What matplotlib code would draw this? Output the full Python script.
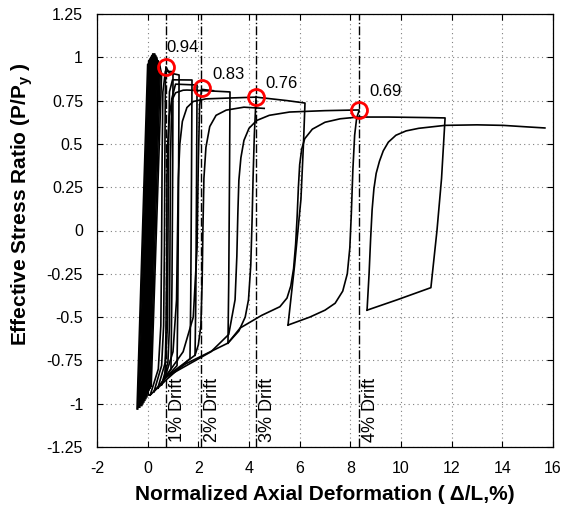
import matplotlib.pyplot as plt

plt.rcParams['font.family'] = ['Liberation Sans', 'DejaVu Sans']
plt.rcParams['mathtext.fontset'] = 'custom'
plt.rcParams['mathtext.rm'] = 'Liberation Sans'
plt.rcParams['mathtext.bf'] = 'Liberation Sans:bold'

# ---- data ----
# dense elastic bundle near zero deformation
bundle_bot_x = [-0.42, -0.39, -0.35, -0.31, -0.27, -0.23, -0.19, -0.15, -0.11, -0.07, -0.03, 0.02]
bundle_bot_y = [-1.03, -1.03, -1.02, -1.02, -1.01, -1.01, -1.00, -0.99, -0.98, -0.97, -0.96, -0.95]
bundle_top_x = [0.00, 0.04, 0.08, 0.12, 0.16, 0.20, 0.24, 0.28, 0.32, 0.36, 0.42, 0.47]
bundle_top_y = [0.96, 0.98, 0.99, 1.00, 1.01, 1.02, 1.02, 1.02, 1.01, 1.00, 0.98, 0.96]
bundle_ret_x = [0.08, 0.12, 0.16, 0.20, 0.24, 0.28, 0.32, 0.36, 0.40, 0.44, 0.50, 0.55]
bundle_ret_y = [0.90, 0.92, 0.93, 0.94, 0.95, 0.95, 0.95, 0.95, 0.94, 0.93, 0.92, 0.90]
bundle_end_x = [-0.30, -0.26, -0.22, -0.18, -0.14, -0.10, -0.06, -0.02, 0.02, 0.06, 0.10, 0.14]
bundle_end_y = [-1.00, -0.99, -0.99, -0.98, -0.97, -0.96, -0.95, -0.94, -0.93, -0.92, -0.91, -0.90]

# cyclic loops (knee, plateau, unloading, compression branch)
loop_a_x = [0.10, 0.42, 0.52, 0.55, 0.57, 0.60, 0.70, 1.00, 0.99, 0.96, 0.92, 0.45, 0.10]
loop_a_y = [-0.95, -0.80, -0.55, -0.10, 0.40, 0.80, 0.92, 0.917, 0.40, -0.30, -0.80, -0.90, -0.95]
loop_b_x = [0.25, 0.55, 0.63, 0.66, 0.68, 0.70, 0.72, 0.85, 1.24, 1.22, 1.19, 1.16, 0.60, 0.25]
loop_b_y = [-0.93, -0.78, -0.55, -0.10, 0.45, 0.85, 0.945, 0.91, 0.898, 0.30, -0.40, -0.78, -0.87, -0.93]
loop_c_x = [0.40, 0.70, 0.78, 0.80, 0.82, 0.86, 0.98, 1.75, 1.73, 1.70, 1.67, 0.75, 0.40]
loop_c_y = [-0.91, -0.76, -0.55, -0.10, 0.40, 0.80, 0.87, 0.869, 0.30, -0.40, -0.74, -0.86, -0.91]
loop_d_x = [0.55, 0.80, 0.86, 0.88, 0.90, 0.95, 1.10, 1.95, 1.93, 1.90, 1.87, 0.68, 0.55]
loop_d_y = [-0.89, -0.76, -0.55, -0.10, 0.40, 0.76, 0.845, 0.84, 0.30, -0.40, -0.72, -0.85, -0.89]
loop_e_x = [0.68, 0.72, 0.75, 0.76, 0.79, 0.85, 0.95, 1.10, 1.40, 1.55, 2.60, 3.25, 3.23, 3.20, 3.17, 1.50, 0.68]
loop_e_y = [-0.85, -0.60, -0.20, 0.29, 0.50, 0.66, 0.75, 0.795, 0.81, 0.811, 0.805, 0.80, 0.30, -0.30, -0.65, -0.77, -0.85]
loop_f_x = [0.68, 1.40, 1.80, 1.95, 2.00, 2.05, 2.13, 2.60]
loop_f_y = [-0.85, -0.70, -0.50, -0.10, 0.40, 0.72, 0.815, 0.807]
loop_g_x = [0.68, 1.00, 1.14, 1.18, 1.21, 1.27, 1.37, 1.55, 1.80, 2.30, 3.25, 4.28, 5.50, 6.21,
            6.15, 6.05, 5.80, 5.54]
loop_g_y = [-0.85, -0.70, -0.40, 0.00, 0.30, 0.50, 0.63, 0.71, 0.745, 0.76, 0.765, 0.770, 0.750, 0.736,
            0.50, 0.18, -0.20, -0.546]
loop_i_x = [1.87, 2.00, 2.10, 2.15, 2.18, 2.22, 2.30, 2.45, 2.70, 3.10, 3.80, 4.60]
loop_i_y = [-0.72, -0.66, -0.55, -0.30, 0.00, 0.30, 0.48, 0.60, 0.665, 0.695, 0.712, 0.705]
loop_j_x = [0.68, 2.50, 3.20, 3.45, 3.52, 3.56, 3.60, 3.68, 3.80, 4.00, 4.30, 4.80, 5.60, 7.00, 8.34]
loop_j_y = [-0.85, -0.70, -0.60, -0.40, -0.15, 0.10, 0.29, 0.42, 0.52, 0.59, 0.635, 0.665, 0.684, 0.692, 0.696]
loop_k_x = [3.17, 3.60, 3.85, 3.98, 4.07, 4.12, 4.16, 4.21, 4.28]
loop_k_y = [-0.65, -0.58, -0.50, -0.40, -0.20, 0.05, 0.30, 0.55, 0.773]
loop_h_x = [5.54, 6.40, 7.00, 7.40, 7.70, 7.88, 7.98, 8.04, 8.10, 8.17, 8.25, 8.34]
loop_h_y = [-0.546, -0.50, -0.46, -0.42, -0.35, -0.25, -0.10, 0.10, 0.35, 0.55, 0.65, 0.69]
loop_m_x = [3.17, 3.65, 4.50, 5.22, 5.50, 5.65, 5.76, 5.84, 5.90, 5.95, 6.00, 6.08, 6.20, 6.50, 7.00,
            7.60, 8.30, 9.50, 11.00, 11.74, 11.60, 11.42, 11.18, 9.85, 8.66]
loop_m_y = [-0.65, -0.563, -0.49, -0.44, -0.39, -0.32, -0.22, -0.08, 0.08, 0.25, 0.38, 0.47, 0.53, 0.585,
            0.625, 0.645, 0.655, 0.655, 0.652, 0.65, 0.30, 0.00, -0.33, -0.40, -0.46]
loop_last_x = [8.66, 8.74, 8.80, 8.86, 8.93, 9.02, 9.15, 9.30, 9.50, 9.80, 10.20, 10.70, 11.74, 13.00,
               14.03, 15.00, 15.68]
loop_last_y = [-0.46, -0.25, -0.05, 0.12, 0.24, 0.33, 0.40, 0.46, 0.51, 0.55, 0.575, 0.59, 0.607, 0.61,
               0.607, 0.598, 0.592]

loops = [(loop_a_x, loop_a_y), (loop_b_x, loop_b_y), (loop_c_x, loop_c_y), (loop_d_x, loop_d_y),
         (loop_e_x, loop_e_y), (loop_f_x, loop_f_y), (loop_g_x, loop_g_y), (loop_i_x, loop_i_y),
         (loop_j_x, loop_j_y), (loop_k_x, loop_k_y), (loop_h_x, loop_h_y), (loop_m_x, loop_m_y),
         (loop_last_x, loop_last_y)]

# drift limits and peak ratios
drift_x = [0.71, 2.11, 4.26, 8.34]
drift_labels = ['1% Drift', '2% Drift', '3% Drift', '4% Drift']
peak_x = [0.71, 2.13, 4.28, 8.34]
peak_y = [0.944, 0.821, 0.773, 0.696]
peak_labels = ['0.94', '0.83', '0.76', '0.69']
peak_text_x = [0.75, 2.55, 4.65, 8.75]
peak_text_y = [1.055, 0.90, 0.85, 0.80]

x_ticks = [-2, 0, 2, 4, 6, 8, 10, 12, 14, 16]
y_ticks = [-1.25, -1, -0.75, -0.5, -0.25, 0, 0.25, 0.5, 0.75, 1, 1.25]
y_tick_labels = ['-1.25', '-1', '-0.75', '-0.5', '-0.25', '0', '0.25', '0.5', '0.75', '1', '1.25']
x_tick_labels = ['-2', '0', '2', '4', '6', '8', '10', '12', '14', '16']

# ---- figure ----
fig = plt.figure(figsize=(5.63, 5.08), dpi=100)
ax = fig.add_axes([97 / 563, 1 - 447 / 508, 456 / 563, 433 / 508])

for i in range(len(bundle_bot_x)):
    ax.plot([bundle_bot_x[i], bundle_top_x[i], bundle_ret_x[i], bundle_end_x[i]],
            [bundle_bot_y[i], bundle_top_y[i], bundle_ret_y[i], bundle_end_y[i]],
            color='black', lw=1.2, solid_joinstyle='round')

for lx, ly in loops:
    ax.plot(lx, ly, color='black', lw=1.2, solid_joinstyle='round')

for dx, lab in zip(drift_x, drift_labels):
    ax.axvline(dx, color='black', lw=1.0, linestyle='-.')
    ax.text(dx + 0.46, -1.222, lab, rotation=90, ha='center', va='bottom', fontsize=13)

ax.plot(peak_x, peak_y, 'o', ms=11.5, mfc='none', mec='red', mew=2, zorder=5)
for tx, ty, lab in zip(peak_text_x, peak_text_y, peak_labels):
    ax.text(tx, ty, lab, ha='left', va='center', fontsize=12)

ax.set_xlim(-2, 16)
ax.set_ylim(-1.25, 1.25)
ax.set_xticks(x_ticks)
ax.set_xticklabels(x_tick_labels)
ax.set_yticks(y_ticks)
ax.set_yticklabels(y_tick_labels)
ax.tick_params(direction='in', top=True, right=True, labelsize=11.5, length=4, width=0.8)
ax.tick_params(axis='x', pad=10)
ax.tick_params(axis='y', pad=10)
ax.grid(True, color='0.5', linestyle=(0, (1, 3)), lw=0.8)
for s in ax.spines.values():
    s.set_linewidth(0.9)

ax.set_xlabel('Normalized Axial Deformation ( \u0394/L,%)', fontsize=15, fontweight='bold')
ax.set_ylabel('Effective Stress Ratio (P/P$_\\mathbf{y}$ )', fontsize=15, fontweight='bold')
ax.xaxis.set_label_coords(0.5, -0.088)
ax.yaxis.set_label_coords(-0.135, 0.56)

fig.savefig('out.png', dpi=100)
